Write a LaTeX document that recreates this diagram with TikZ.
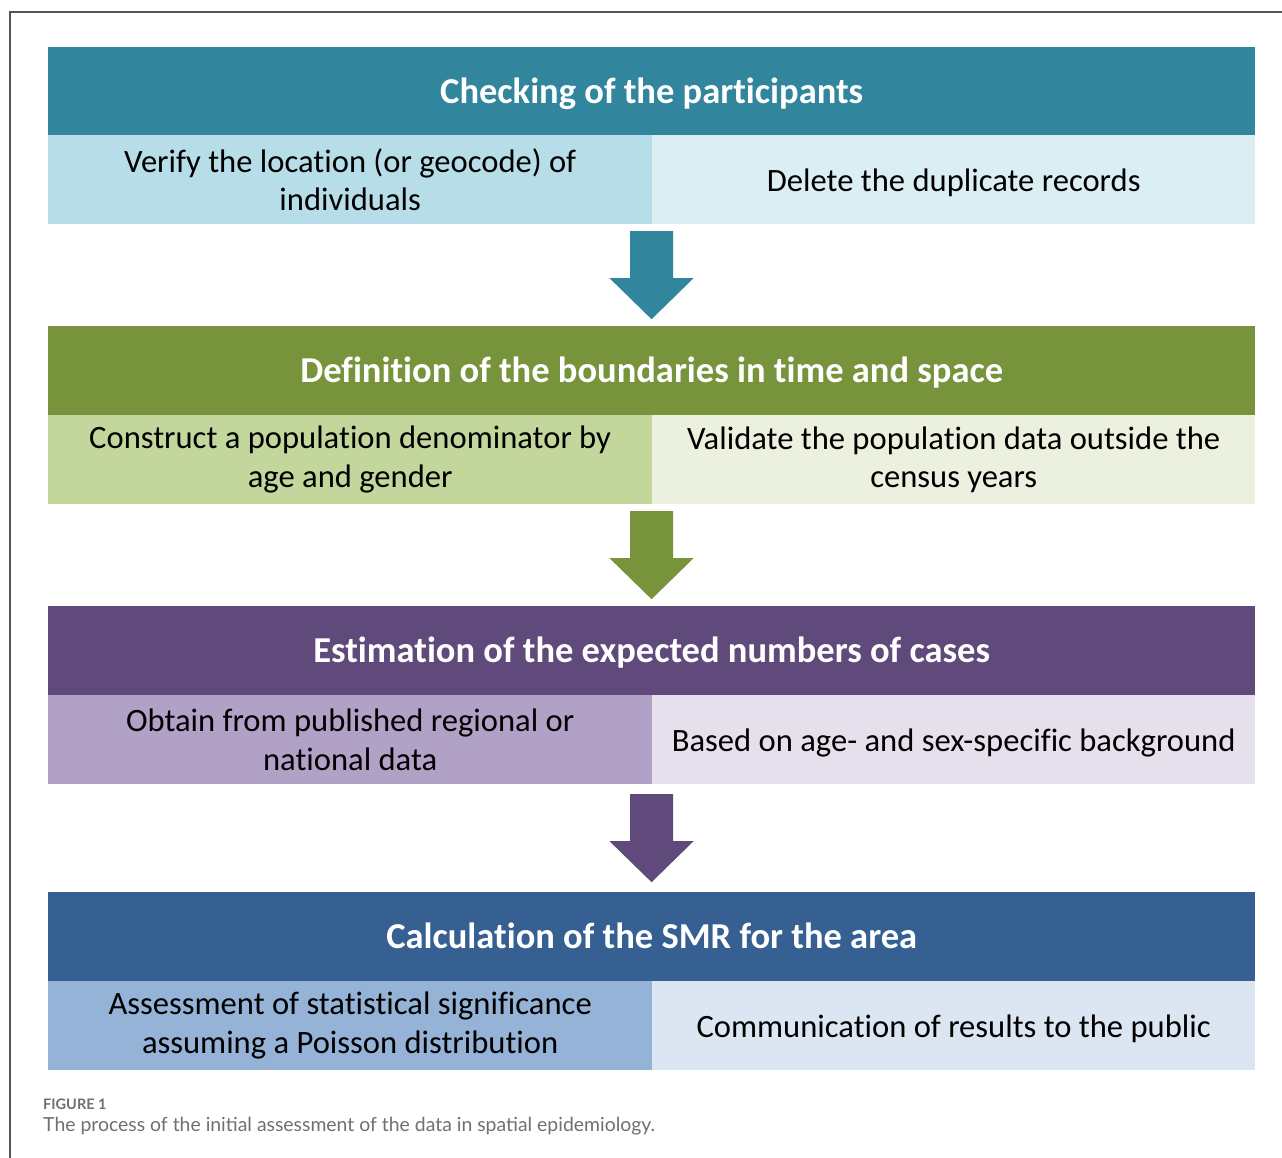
\documentclass[tikz,border=0pt]{standalone}
\usepackage{fontspec}
\setmainfont[Ligatures=CommonOff]{Carlito}
\newfontfamily\capfont{Lato}
\usetikzlibrary{calc}

% header / left cell / right cell colours of each stage
\definecolor{tealH}{HTML}{31859C}
\definecolor{tealL}{HTML}{B7DEE8}
\definecolor{tealR}{HTML}{DAEEF3}
\definecolor{oliveH}{HTML}{77933C}
\definecolor{oliveL}{HTML}{C3D69B}
\definecolor{oliveR}{HTML}{EBF1DE}
\definecolor{plumH}{HTML}{604A7B}
\definecolor{plumL}{HTML}{B2A1C7}
\definecolor{plumR}{HTML}{E6E0EC}
\definecolor{navyH}{HTML}{366092}
\definecolor{navyL}{HTML}{95B3D7}
\definecolor{navyR}{HTML}{DCE6F2}
\definecolor{framegray}{HTML}{555555}
\definecolor{captiongray}{HTML}{707070}

\tikzset{
  header/.style={fill=#1, text=white, anchor=north west, inner sep=0pt,
    minimum width=1207pt, minimum height=89pt,
    text height=27pt, text depth=3pt,
    font=\fontsize{36.5}{40}\selectfont\bfseries},
  cellL/.style={fill=#1, text=black, anchor=north west, inner sep=0pt,
    minimum width=604pt, minimum height=89pt, align=center,
    font=\fontsize{32.6}{38.5}\selectfont},
  cellR/.style={fill=#1, text=black, anchor=north west, inner sep=0pt,
    minimum width=603pt, minimum height=89pt, align=center,
    font=\fontsize{32.6}{38.5}\selectfont},
  oneline/.style={text height=25pt, text depth=2pt},
  frameline/.style={draw=framegray, line width=1.2pt},
}

% block arrow pointing down, centred on a given point
\newcommand\stagearrow[2]{%
  \fill[#1] ($#2+(-21.5,-44)$) -- ++(43,0) -- ++(0,47) -- ++(20.5,0)
    -- ($#2+(0,44)$) -- ($#2+(-42,3)$) -- ++(20.5,0) -- cycle;}

\begin{document}
\begin{tikzpicture}[x=1pt,y=-1pt]
\useasboundingbox (0,0) rectangle (1282,1158);
\fill[white] (0,0) rectangle (1282,1158);
\draw[frameline] (10,1158) -- (10,12) -- (1282,12);

% stage 1
\node[header=tealH] (h1) at (48,47) {Checking of the participants};
\node[cellL=tealL] (l1) at (48,135) {Verify the location (or geocode) of\\individuals};
\node[cellR=tealR, oneline] (r1) at (652,135) {Delete the duplicate records};

% stage 2
\node[header=oliveH] (h2) at (48,326) {Definition of the boundaries in time and space};
\node[cellL=oliveL] (l2) at (48,415) {Construct a population denominator by\\age and gender};
\node[cellR=oliveR] (r2) at (652,415) {Validate the population data outside the\\census years};

% stage 3
\node[header=plumH] (h3) at (48,606) {Estimation of the expected numbers of cases};
\node[cellL=plumL] (l3) at (48,695) {Obtain from published regional or\\national data};
\node[cellR=plumR, oneline] (r3) at (652,695) {Based on age- and sex-specific background};

% stage 4
\node[header=navyH] (h4) at (48,892) {Calculation of the SMR for the area};
\node[cellL=navyL] (l4) at (48,981) {Assessment of statistical significance\\assuming a Poisson distribution};
\node[cellR=navyR, oneline] (r4) at (652,981) {Communication of results to the public};

% arrows between the stages
\coordinate (a1) at ($(l1.south east)!0.5!(h2.north)+(-0.5,0)$);
\coordinate (a2) at ($(l2.south east)!0.5!(h3.north)+(-0.5,0)$);
\coordinate (a3) at ($(l3.south east)!0.5!(h4.north)+(-0.5,0)$);
\stagearrow{tealH}{(a1)}
\stagearrow{oliveH}{(a2)}
\stagearrow{plumH}{(a3)}

% caption
\node[anchor=base west, inner sep=0pt, text=captiongray,
  font=\capfont\fontsize{14.5}{16}\selectfont\bfseries] (figlabel) at (43,1109) {FIGURE 1};
\node[anchor=base west, inner sep=0pt, text=captiongray,
  font=\capfont\fontsize{19.4}{22}\selectfont] (figtext) at (43,1131)
  {The process of the initial assessment of the data in spatial epidemiology.};
\end{tikzpicture}
\end{document}
